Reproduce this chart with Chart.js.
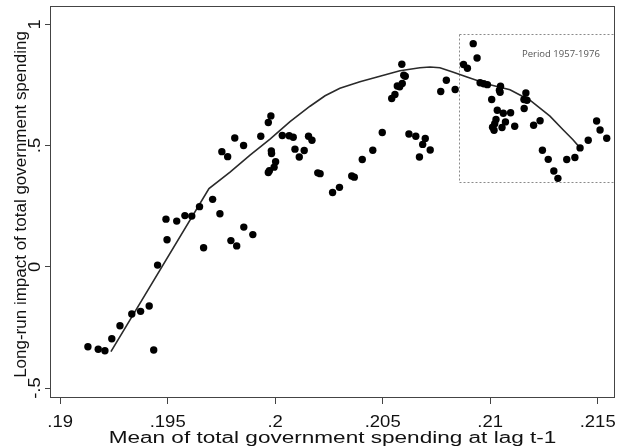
<!DOCTYPE html>
<html><head><meta charset="utf-8">
<script src="https://cdn.jsdelivr.net/npm/chart.js@4.4.0/dist/chart.umd.min.js"></script>
<style>html,body{margin:0;padding:0;background:#fff;}#wrap{width:620px;height:446px;position:relative;}</style>
</head><body><div id="wrap"><canvas id="c" width="620" height="446"></canvas></div>
<script>
// Scatter points: mean of total government spending at lag t-1 (x) vs long-run impact (y)
const pointX = [
  0.19129,0.19177,0.19208,0.19240,0.19278,0.19333,0.19374,0.19414,0.19435,0.19453,
  0.19492,0.19497,0.19542,0.19580,0.19612,0.19648,0.19667,0.19709,0.19743,0.19794,
  0.19821,0.19854,0.19896,
  0.19752,0.19779,0.19812,0.19853,0.19933,0.19968,0.19980,0.19982,0.19983,0.20002,
  0.19995,0.19973,0.19968,0.20033,0.20065,0.20084,0.20155,0.20171,0.20092,0.20135,
  0.20112,0.20198,0.20209,
  0.20267,0.20299,0.20356,0.20368,0.20405,0.20454,0.20498,0.20622,0.20654,0.20698,
  0.20686,0.20721,0.20671,
  0.20542,0.20557,0.20568,0.20579,0.20591,0.20589,0.20598,0.20605,0.20770,0.20796,
  0.20837,
  0.20876,0.20894,0.20921,0.20939,0.20953,0.20970,0.20987,0.21048,0.21043,0.21046,
  0.21007,0.21166,0.21157,0.21171,0.21158,0.21033,0.21061,0.21095,0.21027,0.21071,
  0.21021,0.21011,0.21018,0.21055,0.21114,0.21202,0.21232,0.21243,0.21270,0.21296,
  0.21315,0.21356,0.21394,0.21418,0.21456,0.21495,0.21511,0.21542
];
const pointY = [
  -0.3296,-0.3403,-0.3461,-0.2967,-0.2431,-0.1949,-0.1838,-0.1619,-0.3432,0.0070,
  0.1965,0.1112,0.1883,0.2110,0.2089,0.2480,0.0783,0.2781,0.2184,0.1080,
  0.0861,0.1636,0.1327,
  0.4747,0.4541,0.5311,0.5002,0.5385,0.5950,0.6222,0.4780,0.4672,0.4335,
  0.4108,0.3964,0.3890,0.5414,0.5406,0.5344,0.5385,0.5220,0.4850,0.4796,
  0.4528,0.3873,0.3840,
  0.3066,0.3276,0.3745,0.3696,0.4425,0.4808,0.5538,0.5476,0.5385,0.5295,
  0.5047,0.4813,0.4524,
  0.6939,0.7108,0.7454,0.7425,0.7557,0.8352,0.7899,0.7857,0.7231,0.7693,
  0.7309,
  0.8344,0.8187,0.9201,0.8611,0.7590,0.7548,0.7511,0.7445,0.7281,0.7198,
  0.6901,0.7169,0.6901,0.6869,0.6527,0.6457,0.6333,0.6354,0.6073,0.5974,
  0.5900,0.5756,0.5633,0.5744,0.5797,0.5839,0.6024,0.4808,0.4430,0.3951,
  0.3646,0.4425,0.4508,0.4903,0.5220,0.6011,0.5641,0.5302
];
// Fitted (smoothed) curve
const fitX = [0.19236,0.19692,0.19790,0.19883,0.19976,0.20069,0.20162,0.20232,0.20301,0.20394,
  0.20487,0.20580,0.20673,0.20720,0.20766,0.20822,0.20892,0.20990,0.21092,0.21185,
  0.21278,0.21339,0.21385,0.21418];
const fitY = [-0.3502,0.3222,0.3902,0.4602,0.5262,0.5983,0.6621,0.7054,0.7363,0.7631,
  0.7857,0.8084,0.8208,0.8236,0.8208,0.8043,0.7829,0.7528,0.7301,0.6868,
  0.6209,0.5653,0.5241,0.4903];

const xTickValues = [0.19,0.195,0.2,0.205,0.21,0.215];
const xTickLabels = ['.19','.195','.2','.205','.21','.215'];
const yTickValues = [-0.5,0,0.5,1];
const yTickLabels = ['-.5','0','.5','1'];
const xTitle = 'Mean of total government spending at lag t-1';
const yTitle = 'Long-run impact of total government spending';
const periodLabel = 'Period 1957-1976';
const periodXRange = [0.20856,0.21574];
const periodYRange = [0.3498,0.958];
const periodLabelAt = [0.21148,0.8752];

const scatterData = pointX.map((x,i)=>({x:x,y:pointY[i]}));
const fitData = fitX.map((x,i)=>({x:x,y:fitY[i]}));

function drawText(ctx, text, x, y, font, sx, align, baseline, rotate, color){
  ctx.save();
  ctx.translate(x,y);
  if(rotate) ctx.rotate(-Math.PI/2);
  ctx.scale(sx,1);
  ctx.font = font;
  ctx.fillStyle = color || '#111';
  ctx.textAlign = align;
  ctx.textBaseline = baseline;
  ctx.fillText(text,0,0);
  ctx.restore();
}

const decor = {
  id:'decor',
  beforeDatasetsDraw(chart){
    const ctx = chart.ctx, xs = chart.scales.x, ys = chart.scales.y;
    const l = Math.round(xs.getPixelForValue(periodXRange[0]))+0.5;
    const r = Math.round(xs.getPixelForValue(periodXRange[1]))+0.5;
    const t = Math.round(ys.getPixelForValue(periodYRange[1]))+0.5;
    const b = Math.round(ys.getPixelForValue(periodYRange[0]))+0.5;
    ctx.save();
    ctx.strokeStyle = '#8a8a8a';
    ctx.lineWidth = 1;
    ctx.setLineDash([2,2]);
    ctx.strokeRect(l,t,r-l,b-t);
    ctx.restore();
    drawText(ctx, periodLabel, xs.getPixelForValue(periodLabelAt[0]), ys.getPixelForValue(periodLabelAt[1]),
      '9.5px "Open Sans"', 1, 'left', 'middle', false, '#555');
  },
  afterDraw(chart){
    const ctx = chart.ctx, a = chart.chartArea, xs = chart.scales.x, ys = chart.scales.y;
    ctx.save();
    ctx.strokeStyle = '#444';
    ctx.lineWidth = 1;
    ctx.strokeRect(a.left+0.5, a.top+0.5, a.right-a.left-1, a.bottom-a.top);
    ctx.restore();
    xTickValues.forEach((v,i)=>{
      drawText(ctx, xTickLabels[i], xs.getPixelForValue(v), 427, '16.5px "Liberation Sans"', 1.12, 'center', 'alphabetic', false);
    });
    yTickValues.forEach((v,i)=>{
      drawText(ctx, yTickLabels[i], 40, ys.getPixelForValue(v), '16px "Liberation Sans"', 1.15, 'center', 'alphabetic', true);
    });
    drawText(ctx, xTitle, (a.left+a.right)/2, 443, '16px "Liberation Sans"', 1.41, 'center', 'alphabetic', false);
    drawText(ctx, yTitle, 26, (a.top+a.bottom)/2 + 3, '16.5px "Liberation Sans"', 1.03, 'center', 'alphabetic', true);
  }
};

new Chart(document.getElementById('c'), {
  type:'scatter',
  data:{datasets:[
    {label:'points', data:scatterData, backgroundColor:'#000', borderColor:'#000', borderWidth:0, pointRadius:3.7, pointHoverRadius:3.7, order:1},
    {label:'fit', data:fitData, showLine:true, borderColor:'#2a2a2a', borderWidth:1.6, pointRadius:0, tension:0, fill:false, order:2}
  ]},
  options:{
    responsive:false, animation:false, devicePixelRatio:1,
    layout:{padding:{top:6,right:5,left:0,bottom:0}},
    plugins:{legend:{display:false}, tooltip:{enabled:false}},
    scales:{
      x:{type:'linear', min:0.189526, max:0.215805,
        afterBuildTicks:s=>{s.ticks = xTickValues.map(v=>({value:v}));},
        afterFit:s=>{s.height = 49;},
        grid:{display:true, drawOnChartArea:false, drawTicks:true, tickLength:7, color:'#444'},
        border:{display:false}, ticks:{display:false}},
      y:{type:'linear', min:-0.537, max:1.0754,
        afterBuildTicks:s=>{s.ticks = yTickValues.map(v=>({value:v}));},
        afterFit:s=>{s.width = 50;},
        grid:{display:true, drawOnChartArea:false, drawTicks:true, tickLength:5, color:'#444'},
        border:{display:false}, ticks:{display:false}}
    }
  },
  plugins:[decor]
});
</script></body></html>
